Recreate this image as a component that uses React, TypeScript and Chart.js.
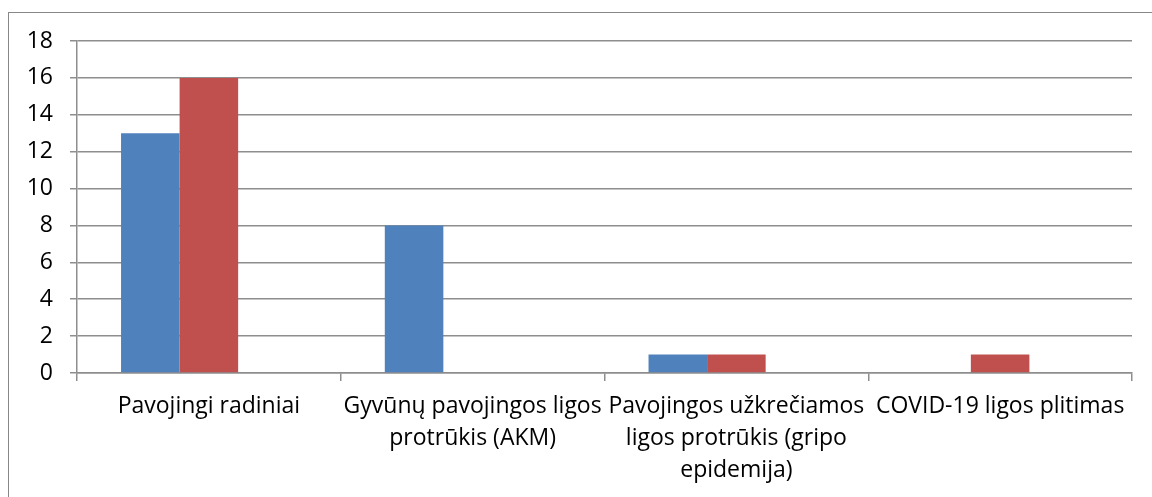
import React, { useEffect, useRef } from "react";
import { Chart, registerables } from "chart.js";

Chart.register(...registerables);

const categories: string[][] = [
  ["Pavojingi radiniai"],
  ["Gyvūnų pavojingos ligos", "protrūkis (AKM)"],
  ["Pavojingos užkrečiamos", "ligos protrūkis (gripo", "epidemija)"],
  ["COVID-19 ligos plitimas"],
];
const seriesBlue: number[] = [13, 8, 1, 0];
const seriesRed: number[] = [16, 0, 1, 1];
const seriesGreen: number[] = [0, 0, 0, 0];
const yMin = 0;
const yMax = 18;
const yStep = 2;

const FONT = "'Open Sans', 'Noto Sans', sans-serif";
const GRID = "#8e8e8e";

export default function App() {
  const ref = useRef<HTMLCanvasElement | null>(null);
  useEffect(() => {
    if (!ref.current) return;
    const chart = new Chart(ref.current, {
      type: "bar",
      data: {
        labels: categories,
        datasets: [
          { label: "A", data: seriesBlue, backgroundColor: "#4F81BD", borderWidth: 0 },
          { label: "B", data: seriesRed, backgroundColor: "#C0504D", borderWidth: 0 },
          { label: "C", data: seriesGreen, backgroundColor: "#9BBB59", borderWidth: 0 },
        ],
      },
      options: {
        animation: false,
        responsive: false,
        maintainAspectRatio: false,
        layout: { padding: { left: 0, top: 41, right: 20, bottom: 0 } },
        datasets: { bar: { barPercentage: 1, categoryPercentage: 0.666 } },
        plugins: { legend: { display: false }, tooltip: { enabled: false } },
        scales: {
          x: {
            afterFit: (s: any) => { s.height = 124; },
            grid: {
              display: true,
              drawOnChartArea: false,
              drawTicks: true,
              tickLength: 8,
              color: GRID,
              lineWidth: 1.5,
              offset: true,
            },
            border: { display: true, color: GRID, width: 1.5 },
            ticks: {
              color: "#000000",
              font: { family: FONT, size: 23, lineHeight: 1.4 },
              maxRotation: 0,
              minRotation: 0,
              autoSkip: false,
              padding: 9,
            },
          },
          y: {
            min: yMin,
            max: yMax,
            afterFit: (s: any) => { s.width = 77; },
            grid: { color: GRID, tickLength: 7, lineWidth: 1.5 },
            border: { display: true, color: GRID, width: 1.5 },
            ticks: {
              stepSize: yStep,
              color: "#000000",
              font: { family: FONT, size: 23 },
              padding: 17,
            },
          },
        },
      },
    });
    return () => chart.destroy();
  }, []);
  return (
    <div style={{ position: "fixed", left: 0, top: 0, width: 1152, height: 497, overflow: "hidden", background: "#fff" }}>
      <div style={{ position: "absolute", left: 8, top: 12, width: 1300, height: 600, border: "1px solid #888", boxSizing: "border-box" }} />
      <canvas ref={ref} width={1152} height={497} style={{ position: "absolute", left: 0, top: 0, width: 1152, height: 497 }} />
    </div>
  );
}
